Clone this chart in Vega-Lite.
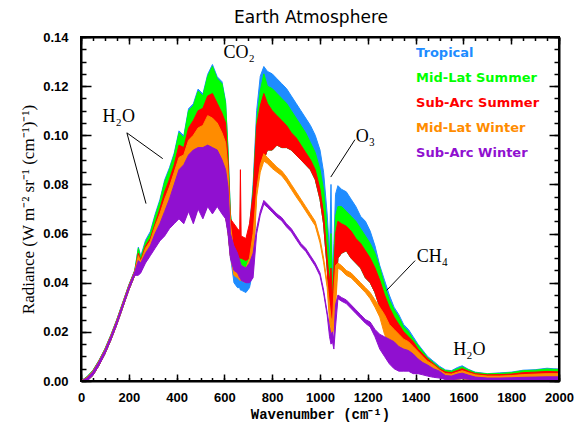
{
  "$schema": "https://vega.github.io/schema/vega-lite/v6.json",
  "padding": {"left": 18, "top": 8, "right": 18, "bottom": 4},
  "config": {"view": {"stroke": "black", "strokeWidth": 2}},
  "data": {"values": [
{"w":0,"s":"T","lo":0,"hi":0},{"w":25,"s":"T","lo":0,"hi":0.0018},{"w":50,"s":"T","lo":0.0023,"hi":0.0044},{"w":75,"s":"T","lo":0.0063,"hi":0.0084},{"w":100,"s":"T","lo":0.011,"hi":0.0131},{"w":125,"s":"T","lo":0.0167,"hi":0.0188},{"w":150,"s":"T","lo":0.023,"hi":0.0251},{"w":175,"s":"T","lo":0.03,"hi":0.0321},{"w":200,"s":"T","lo":0.037,"hi":0.0391},{"w":225,"s":"T","lo":0.043,"hi":0.0451},{"w":240,"s":"T","lo":0.044,"hi":0.0545},{"w":250,"s":"T","lo":0.045,"hi":0.0508},{"w":270,"s":"T","lo":0.049,"hi":0.0573},{"w":290,"s":"T","lo":0.052,"hi":0.0608},{"w":310,"s":"T","lo":0.055,"hi":0.0678},{"w":330,"s":"T","lo":0.058,"hi":0.0738},{"w":350,"s":"T","lo":0.06,"hi":0.0818},{"w":370,"s":"T","lo":0.063,"hi":0.0868},{"w":390,"s":"T","lo":0.065,"hi":0.0928},{"w":410,"s":"T","lo":0.067,"hi":0.1018},{"w":430,"s":"T","lo":0.065,"hi":0.0998},{"w":450,"s":"T","lo":0.07,"hi":0.1108},{"w":470,"s":"T","lo":0.065,"hi":0.1128},{"w":490,"s":"T","lo":0.071,"hi":0.1188},{"w":510,"s":"T","lo":0.067,"hi":0.1168},{"w":530,"s":"T","lo":0.072,"hi":0.1248},{"w":550,"s":"T","lo":0.069,"hi":0.1288},{"w":570,"s":"T","lo":0.072,"hi":0.1238},{"w":590,"s":"T","lo":0.069,"hi":0.1218},{"w":605,"s":"T","lo":0.067,"hi":0.1138},{"w":615,"s":"T","lo":0.061,"hi":0.0948},{"w":625,"s":"T","lo":0.051,"hi":0.0688},{"w":640,"s":"T","lo":0.04,"hi":0.052},{"w":655,"s":"T","lo":0.038,"hi":0.048},{"w":664,"s":"T","lo":0.038,"hi":0.047},{"w":667,"s":"T","lo":0.037,"hi":0.046},{"w":670,"s":"T","lo":0.037,"hi":0.046},{"w":690,"s":"T","lo":0.036,"hi":0.046},{"w":705,"s":"T","lo":0.038,"hi":0.062},{"w":720,"s":"T","lo":0.045,"hi":0.08},{"w":735,"s":"T","lo":0.08,"hi":0.11},{"w":750,"s":"T","lo":0.088,"hi":0.124},{"w":765,"s":"T","lo":0.09,"hi":0.128},{"w":780,"s":"T","lo":0.094,"hi":0.126},{"w":800,"s":"T","lo":0.094,"hi":0.125},{"w":820,"s":"T","lo":0.096,"hi":0.123},{"w":840,"s":"T","lo":0.095,"hi":0.121},{"w":860,"s":"T","lo":0.095,"hi":0.119},{"w":880,"s":"T","lo":0.094,"hi":0.116},{"w":900,"s":"T","lo":0.092,"hi":0.113},{"w":920,"s":"T","lo":0.09,"hi":0.11},{"w":940,"s":"T","lo":0.088,"hi":0.107},{"w":960,"s":"T","lo":0.086,"hi":0.104},{"w":980,"s":"T","lo":0.082,"hi":0.1},{"w":1000,"s":"T","lo":0.074,"hi":0.094},{"w":1015,"s":"T","lo":0.064,"hi":0.085},{"w":1030,"s":"T","lo":0.046,"hi":0.068},{"w":1040,"s":"T","lo":0.032,"hi":0.052},{"w":1046,"s":"T","lo":0.03,"hi":0.08},{"w":1052,"s":"T","lo":0.026,"hi":0.042},{"w":1058,"s":"T","lo":0.03,"hi":0.056},{"w":1065,"s":"T","lo":0.04,"hi":0.076},{"w":1075,"s":"T","lo":0.05,"hi":0.0795},{"w":1090,"s":"T","lo":0.052,"hi":0.078},{"w":1110,"s":"T","lo":0.053,"hi":0.077},{"w":1130,"s":"T","lo":0.05,"hi":0.074},{"w":1150,"s":"T","lo":0.048,"hi":0.071},{"w":1170,"s":"T","lo":0.046,"hi":0.067},{"w":1190,"s":"T","lo":0.042,"hi":0.065},{"w":1210,"s":"T","lo":0.04,"hi":0.061},{"w":1230,"s":"T","lo":0.036,"hi":0.055},{"w":1250,"s":"T","lo":0.03,"hi":0.047},{"w":1270,"s":"T","lo":0.025,"hi":0.041},{"w":1290,"s":"T","lo":0.02,"hi":0.035},{"w":1310,"s":"T","lo":0.016,"hi":0.03},{"w":1330,"s":"T","lo":0.013,"hi":0.027},{"w":1350,"s":"T","lo":0.011,"hi":0.023},{"w":1370,"s":"T","lo":0.009,"hi":0.021},{"w":1390,"s":"T","lo":0.008,"hi":0.018},{"w":1410,"s":"T","lo":0.007,"hi":0.015},{"w":1430,"s":"T","lo":0.006,"hi":0.0125},{"w":1450,"s":"T","lo":0.005,"hi":0.01},{"w":1475,"s":"T","lo":0.004,"hi":0.008},{"w":1500,"s":"T","lo":0.003,"hi":0.006},{"w":1525,"s":"T","lo":0.0006,"hi":0.0045},{"w":1550,"s":"T","lo":0.0005,"hi":0.0042},{"w":1575,"s":"T","lo":0.0008,"hi":0.0055},{"w":1595,"s":"T","lo":0.001,"hi":0.0062},{"w":1620,"s":"T","lo":0.0007,"hi":0.0048},{"w":1650,"s":"T","lo":0.0004,"hi":0.0036},{"w":1700,"s":"T","lo":0.0003,"hi":0.003},{"w":1750,"s":"T","lo":0.0003,"hi":0.0033},{"w":1800,"s":"T","lo":0.0003,"hi":0.0036},{"w":1850,"s":"T","lo":0.0004,"hi":0.0044},{"w":1900,"s":"T","lo":0.0004,"hi":0.0046},{"w":1950,"s":"T","lo":0.0004,"hi":0.0052},{"w":2000,"s":"T","lo":0.0004,"hi":0.0048},
{"w":0,"s":"G","lo":0,"hi":0},{"w":25,"s":"G","lo":0,"hi":0.0017},{"w":50,"s":"G","lo":0.0023,"hi":0.0043},{"w":75,"s":"G","lo":0.0063,"hi":0.0083},{"w":100,"s":"G","lo":0.011,"hi":0.013},{"w":125,"s":"G","lo":0.0167,"hi":0.0187},{"w":150,"s":"G","lo":0.023,"hi":0.025},{"w":175,"s":"G","lo":0.03,"hi":0.032},{"w":200,"s":"G","lo":0.037,"hi":0.039},{"w":225,"s":"G","lo":0.043,"hi":0.045},{"w":240,"s":"G","lo":0.044,"hi":0.054},{"w":250,"s":"G","lo":0.045,"hi":0.05},{"w":270,"s":"G","lo":0.049,"hi":0.0565},{"w":290,"s":"G","lo":0.052,"hi":0.06},{"w":310,"s":"G","lo":0.055,"hi":0.067},{"w":330,"s":"G","lo":0.058,"hi":0.073},{"w":350,"s":"G","lo":0.06,"hi":0.081},{"w":370,"s":"G","lo":0.063,"hi":0.086},{"w":390,"s":"G","lo":0.065,"hi":0.092},{"w":410,"s":"G","lo":0.067,"hi":0.101},{"w":430,"s":"G","lo":0.065,"hi":0.099},{"w":450,"s":"G","lo":0.07,"hi":0.11},{"w":470,"s":"G","lo":0.065,"hi":0.112},{"w":490,"s":"G","lo":0.071,"hi":0.118},{"w":510,"s":"G","lo":0.067,"hi":0.116},{"w":530,"s":"G","lo":0.072,"hi":0.124},{"w":550,"s":"G","lo":0.069,"hi":0.128},{"w":570,"s":"G","lo":0.072,"hi":0.123},{"w":590,"s":"G","lo":0.069,"hi":0.121},{"w":605,"s":"G","lo":0.067,"hi":0.113},{"w":615,"s":"G","lo":0.061,"hi":0.094},{"w":625,"s":"G","lo":0.051,"hi":0.068},{"w":640,"s":"G","lo":0.045,"hi":0.057},{"w":655,"s":"G","lo":0.044,"hi":0.054},{"w":664,"s":"G","lo":0.043,"hi":0.052},{"w":667,"s":"G","lo":0.043,"hi":0.052},{"w":670,"s":"G","lo":0.043,"hi":0.051},{"w":690,"s":"G","lo":0.043,"hi":0.05},{"w":705,"s":"G","lo":0.044,"hi":0.06},{"w":720,"s":"G","lo":0.047,"hi":0.078},{"w":735,"s":"G","lo":0.08,"hi":0.106},{"w":750,"s":"G","lo":0.088,"hi":0.118},{"w":765,"s":"G","lo":0.09,"hi":0.125},{"w":780,"s":"G","lo":0.094,"hi":0.12},{"w":800,"s":"G","lo":0.094,"hi":0.119},{"w":820,"s":"G","lo":0.096,"hi":0.117},{"w":840,"s":"G","lo":0.095,"hi":0.115},{"w":860,"s":"G","lo":0.095,"hi":0.113},{"w":880,"s":"G","lo":0.094,"hi":0.11},{"w":900,"s":"G","lo":0.092,"hi":0.107},{"w":920,"s":"G","lo":0.09,"hi":0.104},{"w":940,"s":"G","lo":0.088,"hi":0.101},{"w":960,"s":"G","lo":0.086,"hi":0.097},{"w":980,"s":"G","lo":0.082,"hi":0.093},{"w":1000,"s":"G","lo":0.074,"hi":0.086},{"w":1015,"s":"G","lo":0.064,"hi":0.078},{"w":1030,"s":"G","lo":0.046,"hi":0.062},{"w":1040,"s":"G","lo":0.03,"hi":0.046},{"w":1046,"s":"G","lo":0.028,"hi":0.06},{"w":1052,"s":"G","lo":0.024,"hi":0.037},{"w":1058,"s":"G","lo":0.028,"hi":0.05},{"w":1065,"s":"G","lo":0.038,"hi":0.067},{"w":1075,"s":"G","lo":0.05,"hi":0.071},{"w":1090,"s":"G","lo":0.052,"hi":0.071},{"w":1110,"s":"G","lo":0.053,"hi":0.069},{"w":1130,"s":"G","lo":0.05,"hi":0.067},{"w":1150,"s":"G","lo":0.048,"hi":0.065},{"w":1170,"s":"G","lo":0.046,"hi":0.062},{"w":1190,"s":"G","lo":0.042,"hi":0.059},{"w":1210,"s":"G","lo":0.04,"hi":0.056},{"w":1230,"s":"G","lo":0.036,"hi":0.052},{"w":1250,"s":"G","lo":0.03,"hi":0.046},{"w":1270,"s":"G","lo":0.025,"hi":0.039},{"w":1290,"s":"G","lo":0.02,"hi":0.033},{"w":1310,"s":"G","lo":0.016,"hi":0.029},{"w":1330,"s":"G","lo":0.013,"hi":0.026},{"w":1350,"s":"G","lo":0.011,"hi":0.022},{"w":1370,"s":"G","lo":0.009,"hi":0.02},{"w":1390,"s":"G","lo":0.008,"hi":0.017},{"w":1410,"s":"G","lo":0.007,"hi":0.0145},{"w":1430,"s":"G","lo":0.006,"hi":0.012},{"w":1450,"s":"G","lo":0.005,"hi":0.0095},{"w":1475,"s":"G","lo":0.004,"hi":0.0075},{"w":1500,"s":"G","lo":0.003,"hi":0.0055},{"w":1525,"s":"G","lo":0.0006,"hi":0.0043},{"w":1550,"s":"G","lo":0.0005,"hi":0.004},{"w":1575,"s":"G","lo":0.0008,"hi":0.005},{"w":1595,"s":"G","lo":0.001,"hi":0.0057},{"w":1620,"s":"G","lo":0.0007,"hi":0.0046},{"w":1650,"s":"G","lo":0.0004,"hi":0.0034},{"w":1700,"s":"G","lo":0.0003,"hi":0.0029},{"w":1750,"s":"G","lo":0.0003,"hi":0.0031},{"w":1800,"s":"G","lo":0.0003,"hi":0.0034},{"w":1850,"s":"G","lo":0.0004,"hi":0.0042},{"w":1900,"s":"G","lo":0.0004,"hi":0.0044},{"w":1950,"s":"G","lo":0.0004,"hi":0.0049},{"w":2000,"s":"G","lo":0.0004,"hi":0.0046},
{"w":0,"s":"R","lo":0,"hi":0},{"w":25,"s":"R","lo":0,"hi":0.0015},{"w":50,"s":"R","lo":0.0023,"hi":0.0041},{"w":75,"s":"R","lo":0.0063,"hi":0.0081},{"w":100,"s":"R","lo":0.011,"hi":0.0128},{"w":125,"s":"R","lo":0.0167,"hi":0.0185},{"w":150,"s":"R","lo":0.023,"hi":0.0248},{"w":175,"s":"R","lo":0.03,"hi":0.0318},{"w":200,"s":"R","lo":0.037,"hi":0.0388},{"w":225,"s":"R","lo":0.043,"hi":0.0448},{"w":240,"s":"R","lo":0.044,"hi":0.052},{"w":250,"s":"R","lo":0.045,"hi":0.049},{"w":270,"s":"R","lo":0.049,"hi":0.055},{"w":290,"s":"R","lo":0.052,"hi":0.058},{"w":310,"s":"R","lo":0.055,"hi":0.064},{"w":330,"s":"R","lo":0.058,"hi":0.07},{"w":350,"s":"R","lo":0.06,"hi":0.077},{"w":370,"s":"R","lo":0.063,"hi":0.082},{"w":390,"s":"R","lo":0.065,"hi":0.088},{"w":410,"s":"R","lo":0.067,"hi":0.096},{"w":430,"s":"R","lo":0.065,"hi":0.095},{"w":450,"s":"R","lo":0.07,"hi":0.103},{"w":470,"s":"R","lo":0.065,"hi":0.106},{"w":490,"s":"R","lo":0.071,"hi":0.11},{"w":510,"s":"R","lo":0.067,"hi":0.111},{"w":530,"s":"R","lo":0.072,"hi":0.116},{"w":550,"s":"R","lo":0.069,"hi":0.117},{"w":570,"s":"R","lo":0.072,"hi":0.113},{"w":590,"s":"R","lo":0.069,"hi":0.109},{"w":605,"s":"R","lo":0.067,"hi":0.105},{"w":615,"s":"R","lo":0.061,"hi":0.09},{"w":625,"s":"R","lo":0.051,"hi":0.066},{"w":640,"s":"R","lo":0.05,"hi":0.064},{"w":655,"s":"R","lo":0.051,"hi":0.062},{"w":664,"s":"R","lo":0.05,"hi":0.061},{"w":667,"s":"R","lo":0.05,"hi":0.086},{"w":670,"s":"R","lo":0.05,"hi":0.059},{"w":690,"s":"R","lo":0.049,"hi":0.058},{"w":705,"s":"R","lo":0.05,"hi":0.064},{"w":720,"s":"R","lo":0.052,"hi":0.076},{"w":735,"s":"R","lo":0.08,"hi":0.104},{"w":750,"s":"R","lo":0.088,"hi":0.112},{"w":765,"s":"R","lo":0.09,"hi":0.117},{"w":780,"s":"R","lo":0.094,"hi":0.113},{"w":800,"s":"R","lo":0.094,"hi":0.11},{"w":820,"s":"R","lo":0.096,"hi":0.108},{"w":840,"s":"R","lo":0.095,"hi":0.106},{"w":860,"s":"R","lo":0.095,"hi":0.104},{"w":880,"s":"R","lo":0.094,"hi":0.101},{"w":900,"s":"R","lo":0.092,"hi":0.099},{"w":920,"s":"R","lo":0.09,"hi":0.096},{"w":940,"s":"R","lo":0.088,"hi":0.093},{"w":960,"s":"R","lo":0.086,"hi":0.09},{"w":980,"s":"R","lo":0.082,"hi":0.086},{"w":1000,"s":"R","lo":0.074,"hi":0.078},{"w":1015,"s":"R","lo":0.064,"hi":0.068},{"w":1030,"s":"R","lo":0.046,"hi":0.05},{"w":1040,"s":"R","lo":0.028,"hi":0.04},{"w":1046,"s":"R","lo":0.025,"hi":0.046},{"w":1052,"s":"R","lo":0.022,"hi":0.033},{"w":1058,"s":"R","lo":0.026,"hi":0.045},{"w":1065,"s":"R","lo":0.035,"hi":0.06},{"w":1075,"s":"R","lo":0.05,"hi":0.065},{"w":1090,"s":"R","lo":0.052,"hi":0.064},{"w":1110,"s":"R","lo":0.053,"hi":0.063},{"w":1130,"s":"R","lo":0.05,"hi":0.061},{"w":1150,"s":"R","lo":0.048,"hi":0.058},{"w":1170,"s":"R","lo":0.046,"hi":0.056},{"w":1190,"s":"R","lo":0.042,"hi":0.053},{"w":1210,"s":"R","lo":0.04,"hi":0.05},{"w":1230,"s":"R","lo":0.036,"hi":0.046},{"w":1250,"s":"R","lo":0.03,"hi":0.041},{"w":1270,"s":"R","lo":0.025,"hi":0.035},{"w":1290,"s":"R","lo":0.02,"hi":0.03},{"w":1310,"s":"R","lo":0.016,"hi":0.026},{"w":1330,"s":"R","lo":0.013,"hi":0.023},{"w":1350,"s":"R","lo":0.011,"hi":0.02},{"w":1370,"s":"R","lo":0.009,"hi":0.018},{"w":1390,"s":"R","lo":0.008,"hi":0.016},{"w":1410,"s":"R","lo":0.007,"hi":0.013},{"w":1430,"s":"R","lo":0.006,"hi":0.011},{"w":1450,"s":"R","lo":0.005,"hi":0.009},{"w":1475,"s":"R","lo":0.004,"hi":0.007},{"w":1500,"s":"R","lo":0.003,"hi":0.005},{"w":1525,"s":"R","lo":0.0006,"hi":0.0037},{"w":1550,"s":"R","lo":0.0005,"hi":0.0034},{"w":1575,"s":"R","lo":0.0008,"hi":0.0043},{"w":1595,"s":"R","lo":0.001,"hi":0.005},{"w":1620,"s":"R","lo":0.0007,"hi":0.004},{"w":1650,"s":"R","lo":0.0004,"hi":0.003},{"w":1700,"s":"R","lo":0.0003,"hi":0.0025},{"w":1750,"s":"R","lo":0.0003,"hi":0.0026},{"w":1800,"s":"R","lo":0.0003,"hi":0.0028},{"w":1850,"s":"R","lo":0.0004,"hi":0.0034},{"w":1900,"s":"R","lo":0.0004,"hi":0.0036},{"w":1950,"s":"R","lo":0.0004,"hi":0.0039},{"w":2000,"s":"R","lo":0.0004,"hi":0.0037},
{"w":0,"s":"O","lo":0,"hi":0},{"w":25,"s":"O","lo":0,"hi":0.0014},{"w":50,"s":"O","lo":0.0023,"hi":0.004},{"w":75,"s":"O","lo":0.0063,"hi":0.008},{"w":100,"s":"O","lo":0.011,"hi":0.0127},{"w":125,"s":"O","lo":0.0167,"hi":0.0184},{"w":150,"s":"O","lo":0.023,"hi":0.0247},{"w":175,"s":"O","lo":0.03,"hi":0.0317},{"w":200,"s":"O","lo":0.037,"hi":0.0387},{"w":225,"s":"O","lo":0.043,"hi":0.0447},{"w":240,"s":"O","lo":0.044,"hi":0.051},{"w":250,"s":"O","lo":0.045,"hi":0.0485},{"w":270,"s":"O","lo":0.049,"hi":0.054},{"w":290,"s":"O","lo":0.052,"hi":0.057},{"w":310,"s":"O","lo":0.055,"hi":0.063},{"w":330,"s":"O","lo":0.058,"hi":0.068},{"w":350,"s":"O","lo":0.06,"hi":0.074},{"w":370,"s":"O","lo":0.063,"hi":0.079},{"w":390,"s":"O","lo":0.065,"hi":0.085},{"w":410,"s":"O","lo":0.067,"hi":0.091},{"w":430,"s":"O","lo":0.065,"hi":0.092},{"w":450,"s":"O","lo":0.07,"hi":0.098},{"w":470,"s":"O","lo":0.065,"hi":0.1},{"w":490,"s":"O","lo":0.071,"hi":0.103},{"w":510,"s":"O","lo":0.067,"hi":0.104},{"w":530,"s":"O","lo":0.072,"hi":0.108},{"w":550,"s":"O","lo":0.069,"hi":0.107},{"w":570,"s":"O","lo":0.072,"hi":0.105},{"w":590,"s":"O","lo":0.069,"hi":0.101},{"w":605,"s":"O","lo":0.067,"hi":0.097},{"w":615,"s":"O","lo":0.061,"hi":0.086},{"w":625,"s":"O","lo":0.051,"hi":0.064},{"w":640,"s":"O","lo":0.043,"hi":0.052},{"w":655,"s":"O","lo":0.042,"hi":0.049},{"w":664,"s":"O","lo":0.041,"hi":0.048},{"w":667,"s":"O","lo":0.041,"hi":0.048},{"w":670,"s":"O","lo":0.041,"hi":0.047},{"w":690,"s":"O","lo":0.04,"hi":0.046},{"w":705,"s":"O","lo":0.042,"hi":0.05},{"w":720,"s":"O","lo":0.045,"hi":0.06},{"w":735,"s":"O","lo":0.075,"hi":0.078},{"w":750,"s":"O","lo":0.085,"hi":0.088},{"w":765,"s":"O","lo":0.0895,"hi":0.0925},{"w":780,"s":"O","lo":0.0885,"hi":0.091},{"w":800,"s":"O","lo":0.0865,"hi":0.089},{"w":820,"s":"O","lo":0.085,"hi":0.087},{"w":840,"s":"O","lo":0.0835,"hi":0.0855},{"w":860,"s":"O","lo":0.081,"hi":0.083},{"w":880,"s":"O","lo":0.078,"hi":0.08},{"w":900,"s":"O","lo":0.075,"hi":0.077},{"w":920,"s":"O","lo":0.0722,"hi":0.074},{"w":940,"s":"O","lo":0.0692,"hi":0.071},{"w":960,"s":"O","lo":0.0662,"hi":0.068},{"w":980,"s":"O","lo":0.0632,"hi":0.065},{"w":1000,"s":"O","lo":0.0562,"hi":0.058},{"w":1015,"s":"O","lo":0.0483,"hi":0.05},{"w":1030,"s":"O","lo":0.038,"hi":0.04},{"w":1040,"s":"O","lo":0.024,"hi":0.031},{"w":1046,"s":"O","lo":0.02,"hi":0.026},{"w":1052,"s":"O","lo":0.018,"hi":0.023},{"w":1058,"s":"O","lo":0.022,"hi":0.036},{"w":1065,"s":"O","lo":0.03,"hi":0.047},{"w":1075,"s":"O","lo":0.046,"hi":0.048},{"w":1090,"s":"O","lo":0.045,"hi":0.047},{"w":1110,"s":"O","lo":0.043,"hi":0.045},{"w":1130,"s":"O","lo":0.042,"hi":0.044},{"w":1150,"s":"O","lo":0.04,"hi":0.042},{"w":1170,"s":"O","lo":0.038,"hi":0.04},{"w":1190,"s":"O","lo":0.036,"hi":0.038},{"w":1210,"s":"O","lo":0.0335,"hi":0.036},{"w":1230,"s":"O","lo":0.03,"hi":0.033},{"w":1250,"s":"O","lo":0.026,"hi":0.03},{"w":1270,"s":"O","lo":0.019,"hi":0.027},{"w":1290,"s":"O","lo":0.015,"hi":0.023},{"w":1310,"s":"O","lo":0.012,"hi":0.021},{"w":1330,"s":"O","lo":0.01,"hi":0.019},{"w":1350,"s":"O","lo":0.008,"hi":0.017},{"w":1370,"s":"O","lo":0.007,"hi":0.016},{"w":1390,"s":"O","lo":0.006,"hi":0.014},{"w":1410,"s":"O","lo":0.005,"hi":0.012},{"w":1430,"s":"O","lo":0.004,"hi":0.01},{"w":1450,"s":"O","lo":0.0035,"hi":0.008},{"w":1475,"s":"O","lo":0.003,"hi":0.0065},{"w":1500,"s":"O","lo":0.0022,"hi":0.0045},{"w":1525,"s":"O","lo":0.0006,"hi":0.003},{"w":1550,"s":"O","lo":0.0005,"hi":0.0028},{"w":1575,"s":"O","lo":0.0008,"hi":0.0036},{"w":1595,"s":"O","lo":0.001,"hi":0.0042},{"w":1620,"s":"O","lo":0.0007,"hi":0.0034},{"w":1650,"s":"O","lo":0.0004,"hi":0.0025},{"w":1700,"s":"O","lo":0.0003,"hi":0.002},{"w":1750,"s":"O","lo":0.0003,"hi":0.002},{"w":1800,"s":"O","lo":0.0003,"hi":0.0022},{"w":1850,"s":"O","lo":0.0004,"hi":0.0026},{"w":1900,"s":"O","lo":0.0004,"hi":0.0028},{"w":1950,"s":"O","lo":0.0004,"hi":0.003},{"w":2000,"s":"O","lo":0.0004,"hi":0.003},
{"w":0,"s":"P","lo":0,"hi":0},{"w":25,"s":"P","lo":0,"hi":0.0012},{"w":50,"s":"P","lo":0.0023,"hi":0.0038},{"w":75,"s":"P","lo":0.0063,"hi":0.0078},{"w":100,"s":"P","lo":0.011,"hi":0.0125},{"w":125,"s":"P","lo":0.0167,"hi":0.0182},{"w":150,"s":"P","lo":0.023,"hi":0.0245},{"w":175,"s":"P","lo":0.03,"hi":0.0315},{"w":200,"s":"P","lo":0.037,"hi":0.0385},{"w":225,"s":"P","lo":0.043,"hi":0.0445},{"w":240,"s":"P","lo":0.043,"hi":0.049},{"w":250,"s":"P","lo":0.044,"hi":0.048},{"w":270,"s":"P","lo":0.048,"hi":0.052},{"w":290,"s":"P","lo":0.051,"hi":0.055},{"w":310,"s":"P","lo":0.054,"hi":0.06},{"w":330,"s":"P","lo":0.057,"hi":0.064},{"w":350,"s":"P","lo":0.059,"hi":0.069},{"w":370,"s":"P","lo":0.062,"hi":0.074},{"w":390,"s":"P","lo":0.064,"hi":0.08},{"w":410,"s":"P","lo":0.066,"hi":0.086},{"w":430,"s":"P","lo":0.064,"hi":0.088},{"w":450,"s":"P","lo":0.069,"hi":0.092},{"w":470,"s":"P","lo":0.064,"hi":0.094},{"w":490,"s":"P","lo":0.07,"hi":0.095},{"w":510,"s":"P","lo":0.066,"hi":0.095},{"w":530,"s":"P","lo":0.071,"hi":0.096},{"w":550,"s":"P","lo":0.068,"hi":0.095},{"w":570,"s":"P","lo":0.071,"hi":0.094},{"w":590,"s":"P","lo":0.068,"hi":0.09},{"w":605,"s":"P","lo":0.066,"hi":0.086},{"w":615,"s":"P","lo":0.06,"hi":0.079},{"w":625,"s":"P","lo":0.05,"hi":0.06},{"w":640,"s":"P","lo":0.045,"hi":0.055},{"w":655,"s":"P","lo":0.044,"hi":0.052},{"w":664,"s":"P","lo":0.042,"hi":0.049},{"w":667,"s":"P","lo":0.042,"hi":0.048},{"w":670,"s":"P","lo":0.041,"hi":0.047},{"w":690,"s":"P","lo":0.04,"hi":0.046},{"w":705,"s":"P","lo":0.04,"hi":0.048},{"w":720,"s":"P","lo":0.042,"hi":0.052},{"w":735,"s":"P","lo":0.06,"hi":0.062},{"w":750,"s":"P","lo":0.0675,"hi":0.069},{"w":765,"s":"P","lo":0.072,"hi":0.0735},{"w":780,"s":"P","lo":0.0707,"hi":0.072},{"w":800,"s":"P","lo":0.0687,"hi":0.07},{"w":820,"s":"P","lo":0.0667,"hi":0.068},{"w":840,"s":"P","lo":0.0652,"hi":0.0665},{"w":860,"s":"P","lo":0.0627,"hi":0.064},{"w":880,"s":"P","lo":0.0607,"hi":0.062},{"w":900,"s":"P","lo":0.0577,"hi":0.059},{"w":920,"s":"P","lo":0.0548,"hi":0.056},{"w":940,"s":"P","lo":0.0528,"hi":0.054},{"w":960,"s":"P","lo":0.0498,"hi":0.051},{"w":980,"s":"P","lo":0.0468,"hi":0.048},{"w":1000,"s":"P","lo":0.0428,"hi":0.044},{"w":1015,"s":"P","lo":0.0358,"hi":0.037},{"w":1030,"s":"P","lo":0.0268,"hi":0.028},{"w":1040,"s":"P","lo":0.018,"hi":0.022},{"w":1046,"s":"P","lo":0.015,"hi":0.019},{"w":1052,"s":"P","lo":0.016,"hi":0.02},{"w":1058,"s":"P","lo":0.013,"hi":0.017},{"w":1065,"s":"P","lo":0.022,"hi":0.031},{"w":1075,"s":"P","lo":0.0335,"hi":0.035},{"w":1090,"s":"P","lo":0.0325,"hi":0.034},{"w":1110,"s":"P","lo":0.0315,"hi":0.033},{"w":1130,"s":"P","lo":0.0295,"hi":0.031},{"w":1150,"s":"P","lo":0.0275,"hi":0.029},{"w":1170,"s":"P","lo":0.0255,"hi":0.027},{"w":1190,"s":"P","lo":0.0235,"hi":0.025},{"w":1210,"s":"P","lo":0.022,"hi":0.024},{"w":1230,"s":"P","lo":0.018,"hi":0.021},{"w":1250,"s":"P","lo":0.013,"hi":0.019},{"w":1270,"s":"P","lo":0.01,"hi":0.018},{"w":1290,"s":"P","lo":0.007,"hi":0.017},{"w":1310,"s":"P","lo":0.005,"hi":0.016},{"w":1330,"s":"P","lo":0.004,"hi":0.014},{"w":1350,"s":"P","lo":0.004,"hi":0.013},{"w":1370,"s":"P","lo":0.004,"hi":0.0124},{"w":1390,"s":"P","lo":0.003,"hi":0.011},{"w":1410,"s":"P","lo":0.003,"hi":0.009},{"w":1430,"s":"P","lo":0.0025,"hi":0.0075},{"w":1450,"s":"P","lo":0.002,"hi":0.0065},{"w":1475,"s":"P","lo":0.0015,"hi":0.005},{"w":1500,"s":"P","lo":0.0012,"hi":0.004},{"w":1525,"s":"P","lo":0.0006,"hi":0.0022},{"w":1550,"s":"P","lo":0.0005,"hi":0.002},{"w":1575,"s":"P","lo":0.0008,"hi":0.0028},{"w":1595,"s":"P","lo":0.001,"hi":0.0032},{"w":1620,"s":"P","lo":0.0007,"hi":0.0024},{"w":1650,"s":"P","lo":0.0004,"hi":0.0016},{"w":1700,"s":"P","lo":0.0003,"hi":0.0012},{"w":1750,"s":"P","lo":0.0003,"hi":0.0012},{"w":1800,"s":"P","lo":0.0003,"hi":0.0013},{"w":1850,"s":"P","lo":0.0004,"hi":0.0015},{"w":1900,"s":"P","lo":0.0004,"hi":0.0016},{"w":1950,"s":"P","lo":0.0004,"hi":0.0017},{"w":2000,"s":"P","lo":0.0004,"hi":0.0017}
  ]},
  "hconcat": [
  {
  "width": 478,
  "height": 344,
  "title": {"text": "Earth Atmosphere", "font": "DejaVu Sans", "fontSize": 17, "fontWeight": "normal", "color": "black", "offset": 4, "dx": -9, "anchor": "middle"},
  "resolve": {"scale": {"x": "independent", "y": "independent"}, "axis": {"x": "independent", "y": "independent"}},
  "layer": [
    {
      "transform": [{"filter": "datum.s === 'T'"}],
      "mark": {"type": "area", "stroke": "#1E8CFF", "strokeWidth": 1, "interpolate": "linear"},
      "encoding": {
        "x": {"field": "w", "type": "quantitative", "scale": {"domain": [0, 2000], "nice": false, "zero": false},
          "axis": {"orient": "bottom", "values": [0,200,400,600,800,1000,1200,1400,1600,1800,2000], "format": "d", "ticks": false, "domain": true, "domainColor": "black", "domainWidth": 2, "grid": false, "labelPadding": 10, "labelFont": "Liberation Sans", "labelFontSize": 13, "labelFontWeight": "bold", "labelColor": "black", "labelFlush": false, "labelOverlap": false, "title": "Wavenumber (cm⁻¹)", "titleFont": "Liberation Mono", "titleFontSize": 14, "titleFontWeight": "bold", "titleColor": "black", "titlePadding": 3}},
        "y": {"field": "hi", "type": "quantitative", "scale": {"domain": [0, 0.14], "nice": false},
          "axis": {"orient": "left", "values": [0,0.02,0.04,0.06,0.08,0.1,0.12,0.14], "format": ".2f", "ticks": false, "domain": true, "domainColor": "black", "domainWidth": 2, "grid": false, "labelPadding": 13, "labelFont": "Liberation Sans", "labelFontSize": 13, "labelFontWeight": "bold", "labelColor": "black", "labelFlush": false, "labelOverlap": false, "title": "Radiance (W m⁻² sr⁻¹ (cm⁻¹)⁻¹)", "titleFont": "Liberation Serif", "titleFontSize": 17, "titleFontWeight": "normal", "titleColor": "black", "titlePadding": 5}},
        "y2": {"field": "lo"},
        "color": {"field": "s", "type": "nominal",
          "scale": {"domain": ["T","G","R","O","P"], "range": ["#1E8CFF","#00FF00","#FF0000","#FF8C00","#9010D0"]},
          "legend": null}
      }
    },
    {
      "transform": [{"filter": "datum.s === 'G'"}],
      "mark": {"type": "area", "fill": "#00FF00", "stroke": "#00FF00", "strokeWidth": 1, "interpolate": "linear"},
      "encoding": {
        "x": {"field": "w", "type": "quantitative", "scale": {"domain": [0, 2000], "nice": false, "zero": false}, "axis": {"orient": "bottom", "offset": -7, "values": [0,200,400,600,800,1000,1200,1400,1600,1800,2000], "labels": false, "domain": false, "grid": false, "ticks": true, "tickSize": 7, "tickColor": "black", "tickWidth": 1.5, "title": null}},
        "y": {"field": "hi", "type": "quantitative", "scale": {"domain": [0, 0.14], "nice": false}, "axis": {"orient": "left", "offset": -10, "values": [0,0.02,0.04,0.06,0.08,0.1,0.12,0.14], "labels": false, "domain": false, "grid": false, "ticks": true, "tickSize": 10, "tickColor": "black", "tickWidth": 1.5, "title": null}},
        "y2": {"field": "lo"}
      }
    },
    {
      "transform": [{"filter": "datum.s === 'R'"}],
      "mark": {"type": "area", "fill": "#FF0000", "stroke": "#FF0000", "strokeWidth": 1, "interpolate": "linear"},
      "encoding": {
        "x": {"field": "w", "type": "quantitative", "scale": {"domain": [0, 2000], "nice": false, "zero": false}, "axis": {"orient": "bottom", "offset": -3.5, "values": [0,50,100,150,200,250,300,350,400,450,500,550,600,650,700,750,800,850,900,950,1000,1050,1100,1150,1200,1250,1300,1350,1400,1450,1500,1550,1600,1650,1700,1750,1800,1850,1900,1950,2000], "labels": false, "domain": false, "grid": false, "ticks": true, "tickSize": 3.5, "tickColor": "black", "tickWidth": 1.5, "title": null}},
        "y": {"field": "hi", "type": "quantitative", "scale": {"domain": [0, 0.14], "nice": false}, "axis": {"orient": "left", "offset": -5, "values": [0,0.005,0.01,0.015,0.02,0.025,0.03,0.035,0.04,0.045,0.05,0.055,0.06,0.065,0.07,0.075,0.08,0.085,0.09,0.095,0.1,0.105,0.11,0.115,0.12,0.125,0.13,0.135,0.14], "labels": false, "domain": false, "grid": false, "ticks": true, "tickSize": 5, "tickColor": "black", "tickWidth": 1.5, "title": null}},
        "y2": {"field": "lo"}
      }
    },
    {
      "transform": [{"filter": "datum.s === 'O'"}],
      "mark": {"type": "area", "fill": "#FF8C00", "stroke": "#FF8C00", "strokeWidth": 1, "interpolate": "linear"},
      "encoding": {
        "x": {"field": "w", "type": "quantitative", "scale": {"domain": [0, 2000], "nice": false, "zero": false}, "axis": {"orient": "top", "values": [0,2000], "labels": false, "domain": true, "domainColor": "black", "domainWidth": 2, "grid": false, "ticks": false, "title": null}},
        "y": {"field": "hi", "type": "quantitative", "scale": {"domain": [0, 0.14], "nice": false}, "axis": {"orient": "right", "values": [0,0.14], "labels": false, "domain": true, "domainColor": "black", "domainWidth": 2, "grid": false, "ticks": false, "title": null}},
        "y2": {"field": "lo"}
      }
    },
    {
      "transform": [{"filter": "datum.s === 'P'"}],
      "mark": {"type": "area", "fill": "#9010D0", "stroke": "#9010D0", "strokeWidth": 1, "interpolate": "linear"},
      "encoding": {
        "x": {"field": "w", "type": "quantitative", "scale": {"domain": [0, 2000], "nice": false, "zero": false}, "axis": {"orient": "top", "offset": -7, "values": [0,200,400,600,800,1000,1200,1400,1600,1800,2000], "labels": false, "domain": false, "grid": false, "ticks": true, "tickSize": 7, "tickColor": "black", "tickWidth": 1.5, "title": null}},
        "y": {"field": "hi", "type": "quantitative", "scale": {"domain": [0, 0.14], "nice": false}, "axis": {"orient": "right", "offset": -10, "values": [0,0.02,0.04,0.06,0.08,0.1,0.12,0.14], "labels": false, "domain": false, "grid": false, "ticks": true, "tickSize": 10, "tickColor": "black", "tickWidth": 1.5, "title": null}},
        "y2": {"field": "lo"}
      }
    },
    {
      "data": {"values": [
        {"w": 192, "r": 0.101, "w2": 342, "r2": 0.0905},
        {"w": 192, "r": 0.101, "w2": 272, "r2": 0.0722},
        {"w": 1146, "r": 0.0982, "w2": 1045, "r2": 0.083},
        {"w": 1398, "r": 0.049, "w2": 1279, "r2": 0.0369}
      ]},
      "mark": {"type": "rule", "color": "black", "strokeWidth": 1},
      "encoding": {
        "x": {"field": "w", "type": "quantitative", "scale": {"domain": [0, 2000], "nice": false, "zero": false}, "axis": {"orient": "top", "offset": -3.5, "values": [0,50,100,150,200,250,300,350,400,450,500,550,600,650,700,750,800,850,900,950,1000,1050,1100,1150,1200,1250,1300,1350,1400,1450,1500,1550,1600,1650,1700,1750,1800,1850,1900,1950,2000], "labels": false, "domain": false, "grid": false, "ticks": true, "tickSize": 3.5, "tickColor": "black", "tickWidth": 1.5, "title": null}},
        "y": {"field": "r", "type": "quantitative", "scale": {"domain": [0, 0.14], "nice": false}, "axis": {"orient": "right", "offset": -5, "values": [0,0.005,0.01,0.015,0.02,0.025,0.03,0.035,0.04,0.045,0.05,0.055,0.06,0.065,0.07,0.075,0.08,0.085,0.09,0.095,0.1,0.105,0.11,0.115,0.12,0.125,0.13,0.135,0.14], "labels": false, "domain": false, "grid": false, "ticks": true, "tickSize": 5, "tickColor": "black", "tickWidth": 1.5, "title": null}},
        "x2": {"field": "w2"},
        "y2": {"field": "r2"}
      }
    },
    {
      "data": {"values": [{}]},
      "mark": {"type": "rect", "fill": "transparent", "stroke": "black", "strokeWidth": 2},
      "encoding": {
        "x": {"datum": 0, "type": "quantitative", "scale": {"domain": [0, 2000], "nice": false, "zero": false}, "axis": null},
        "x2": {"datum": 2000},
        "y": {"datum": 0, "type": "quantitative", "scale": {"domain": [0, 0.14], "nice": false}, "axis": null},
        "y2": {"datum": 0.14}
      }
    },
    {
      "data": {"values": [
        {"w": 662, "r": 0.1335, "label": "CO₂"},
        {"w": 158, "r": 0.1073, "label": "H₂O"},
        {"w": 1190, "r": 0.0995, "label": "O₃"},
        {"w": 1470, "r": 0.0505, "label": "CH₄"},
        {"w": 1625, "r": 0.0128, "label": "H₂O"}
      ]},
      "mark": {"type": "text", "font": "Liberation Serif", "fontSize": 18, "color": "black", "align": "center", "baseline": "middle"},
      "encoding": {
        "x": {"field": "w", "type": "quantitative", "scale": {"domain": [0, 2000], "nice": false, "zero": false}, "axis": null},
        "y": {"field": "r", "type": "quantitative", "scale": {"domain": [0, 0.14], "nice": false}, "axis": null},
        "text": {"field": "label"}
      }
    },
    {
      "data": {"values": [
        {"w": 1402, "r": 0.1334, "s": "T", "name": "Tropical"},
        {"w": 1402, "r": 0.1232, "s": "G", "name": "Mid-Lat Summer"},
        {"w": 1402, "r": 0.113, "s": "R", "name": "Sub-Arc Summer"},
        {"w": 1402, "r": 0.1028, "s": "O", "name": "Mid-Lat Winter"},
        {"w": 1402, "r": 0.0927, "s": "P", "name": "Sub-Arc Winter"}
      ]},
      "mark": {"type": "text", "font": "DejaVu Sans", "fontSize": 13, "fontWeight": "bold", "align": "left", "baseline": "middle"},
      "encoding": {
        "x": {"field": "w", "type": "quantitative", "scale": {"domain": [0, 2000], "nice": false, "zero": false}, "axis": null},
        "y": {"field": "r", "type": "quantitative", "scale": {"domain": [0, 0.14], "nice": false}, "axis": null},
        "text": {"field": "name"},
        "color": {"field": "s", "type": "nominal", "legend": null}
      }
    }
  ]
  }
  ]
}
